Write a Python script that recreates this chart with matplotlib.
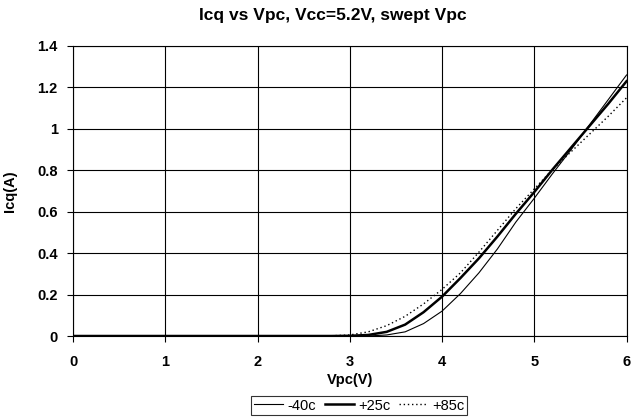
import matplotlib
matplotlib.use("Agg")
import matplotlib.pyplot as plt
from matplotlib.ticker import FuncFormatter

plt.rcParams['font.family'] = ['Liberation Sans', 'DejaVu Sans']

vpc = [0, 1, 2, 2.8, 3.0, 3.2, 3.4, 3.6, 3.8, 4.0, 4.2, 4.4, 4.6, 4.8, 5.0, 5.2, 5.4, 5.6, 5.8, 6.0]
icq_m40 = [0, 0, 0, 0, 0, 0.0, 0.005, 0.02, 0.06, 0.12, 0.205, 0.305, 0.42, 0.55, 0.665, 0.785, 0.9, 1.02, 1.14, 1.26]
icq_p25 = [0, 0, 0, 0, 0.001, 0.005, 0.02, 0.055, 0.115, 0.19, 0.28, 0.375, 0.48, 0.59, 0.695, 0.805, 0.91, 1.015, 1.12, 1.23]
icq_p85 = [0, 0, 0, 0.001, 0.005, 0.02, 0.05, 0.095, 0.155, 0.225, 0.305, 0.405, 0.51, 0.615, 0.71, 0.805, 0.89, 0.975, 1.06, 1.15]

fig = plt.figure(figsize=(6.37, 4.2), dpi=100)
ax = fig.add_axes([0.1146, 0.2, 0.869, 0.6905])

ax.plot(vpc, icq_m40, color='black', lw=0.8, label='-40c')
ax.plot(vpc, icq_p25, color='black', lw=1.8, label='+25c')
ax.plot(vpc, icq_p85, color='black', lw=1.0, linestyle=(0, (1, 2)), label='+85c')

ax.set_xlim(0, 6)
ax.set_ylim(0, 1.4)
ax.set_xticks(range(0, 7))
ax.set_yticks([0, 0.2, 0.4, 0.6, 0.8, 1.0, 1.2, 1.4])
ax.yaxis.set_major_formatter(FuncFormatter(lambda v, p: ('%g' % round(v, 1))))
ax.grid(True, color='black', lw=0.8)
ax.set_axisbelow(True)
for s in ax.spines.values():
    s.set_color('black')
    s.set_linewidth(0.8)
ax.tick_params(direction='out', length=4, width=0.8, labelsize=10.5)
ax.tick_params(axis='x', pad=10)
ax.tick_params(axis='y', pad=7)
for lab in ax.get_xticklabels() + ax.get_yticklabels():
    lab.set_fontweight('bold')

ax.set_xlabel('Vpc(V)', fontsize=10.5, fontweight='bold')
ax.set_ylabel('Icq(A)', fontsize=10.5, fontweight='bold')
ax.xaxis.set_label_coords(0.5, -0.129)
ax.yaxis.set_label_coords(-0.101, 0.5)
fig.text(0.522, 0.963, 'Icq vs Vpc, Vcc=5.2V, swept Vpc', ha='center', va='center',
         fontsize=12.5, fontweight='bold')

leg = fig.legend(loc='center', bbox_to_anchor=(0.564, 0.0345), ncol=3, frameon=True,
                 fancybox=False, edgecolor='black', fontsize=10.5, handlelength=2.0,
                 handletextpad=0.3, columnspacing=0.6, borderpad=0.15, borderaxespad=0)
leg.get_frame().set_linewidth(0.8)

fig.savefig('out.png', dpi=100)
